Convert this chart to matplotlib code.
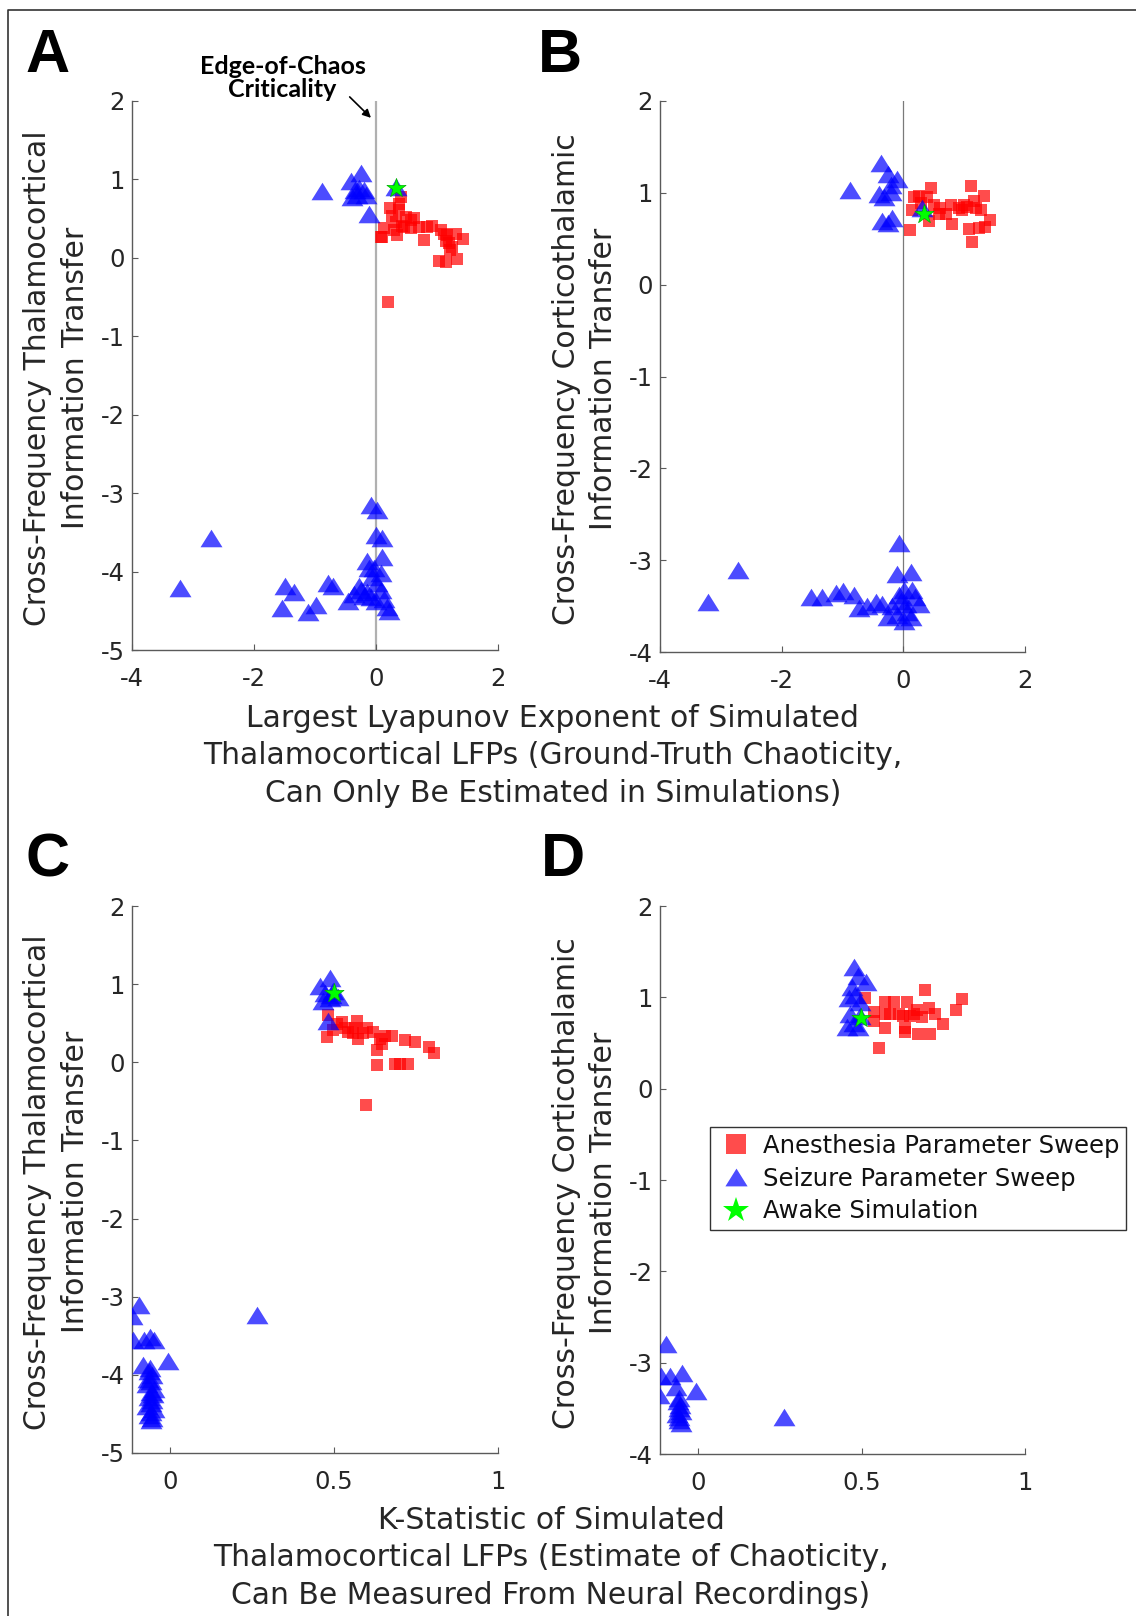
import matplotlib
matplotlib.use("Agg")
import matplotlib.pyplot as plt
from matplotlib.lines import Line2D
import numpy as np

plt.rcParams["font.family"] = ["DejaVu Sans"]
plt.rcParams["axes.unicode_minus"] = False

# ---------------- data ----------------
# Panel A: Lyapunov exponent vs thalamocortical transfer
a_red_x = [0.415, 0.23, 0.377, 0.486, 0.322, 0.13, 0.104, 0.35, 0.46, 0.62, 0.70, 0.787,
           0.92, 1.06, 1.17, 1.31, 1.43, 1.25, 1.33, 1.14, 1.03, 0.197, 0.57, 0.077,
           0.295, 0.43, 0.57, 0.84, 1.11, 1.22, 1.14, 1.20, 0.27, 0.377]
a_red_y = [0.78, 0.63, 0.61, 0.525, 0.46, 0.377, 0.27, 0.29, 0.39, 0.51, 0.39, 0.228,
           0.41, 0.355, 0.29, 0.31, 0.24, 0.14, -0.01, -0.05, -0.035, -0.56, 0.38, 0.265,
           0.35, 0.41, 0.48, 0.39, 0.307, 0.095, 0.22, 0.185, 0.53, 0.69]
a_blue_x = [-0.88, -0.24, -0.415, -0.35, -0.28, -0.20, -0.31, -0.17, -0.39, -0.115, 0.32,
            -3.21, -2.70, -1.49, -1.34, -1.54, -1.11, -0.99, -0.78, -0.70, -0.46, -0.36,
            -0.25, -0.14, -0.087, 0.02, -0.005, 0.10, -0.14, 0.10, -0.03, -0.06, 0.02,
            0.077, -0.087, 0.13, 0.186, 0.21, -0.20, -0.005, -0.28, 0.077, -0.115]
a_blue_y = [0.85, 1.08, 0.985, 0.87, 0.89, 0.87, 0.80, 0.80, 0.78, 0.56, 0.90,
            -4.21, -3.57, -4.18, -4.26, -4.46, -4.52, -4.42, -4.14, -4.19, -4.38, -4.28,
            -4.24, -4.26, -3.15, -3.22, -3.53, -3.57, -3.86, -3.81, -3.95, -4.07, -4.14,
            -4.24, -4.33, -4.35, -4.45, -4.50, -4.31, -4.38, -4.19, -4.02, -3.95]
a_star = (0.335, 0.89)

# Panel B: Lyapunov exponent vs corticothalamic transfer
b_red_x = [0.11, 0.175, 0.26, 0.45, 0.15, 0.39, 0.50, 0.61, 0.78, 0.70, 0.80, 0.42,
           1.11, 1.33, 1.16, 1.05, 0.915, 1.27, 1.42, 1.08, 1.24, 1.35, 1.13, 0.285,
           0.59, 0.97, 1.19, 1.00]
b_red_y = [0.59, 0.96, 0.97, 1.05, 0.81, 0.95, 0.87, 0.83, 0.87, 0.77, 0.66, 0.69,
           1.07, 0.97, 0.91, 0.85, 0.83, 0.81, 0.70, 0.61, 0.62, 0.63, 0.47, 0.89,
           0.77, 0.81, 0.83, 0.87]
b_blue_x = [-0.877, -0.37, -0.26, -0.11, -0.21, -0.40, -0.32, -0.21, -0.345, -0.18, -0.26, 0.31,
            -3.21, -2.71, -1.52, -1.34, -1.11, -0.99, -0.81, -0.73, -0.455, -0.345, -0.26,
            -0.066, -0.11, 0.12, 0.01, -0.044, 0.066, 0.20, 0.26, -0.10, 0.01, 0.12,
            -0.18, 0.15, -0.07, 0.04, -0.59]
b_blue_y = [1.03, 1.32, 1.21, 1.15, 1.09, 0.99, 0.96, 1.01, 0.69, 0.73, 0.67, 0.83,
            -3.46, -3.11, -3.40, -3.40, -3.36, -3.34, -3.38, -3.52, -3.46, -3.48, -3.62,
            -2.81, -3.15, -3.13, -3.32, -3.44, -3.56, -3.40, -3.48, -3.60, -3.66, -3.62,
            -3.50, -3.32, -3.38, -3.48, -3.50]
b_star = (0.34, 0.77)

# Panel C: K-statistic vs thalamocortical transfer
c_red_x = [0.477, 0.482, 0.508, 0.533, 0.543, 0.569, 0.563, 0.574, 0.599, 0.619, 0.64,
           0.655, 0.675, 0.63, 0.63, 0.685, 0.70, 0.726, 0.716, 0.748, 0.789, 0.805,
           0.596, 0.497, 0.589, 0.523, 0.645, 0.558]
c_red_y = [0.32, 0.60, 0.49, 0.44, 0.39, 0.53, 0.44, 0.30, 0.44, 0.39, 0.30,
           0.34, 0.34, 0.16, -0.03, -0.02, -0.02, -0.02, 0.29, 0.26, 0.20, 0.12,
           -0.545, 0.415, 0.37, 0.51, 0.23, 0.37]
c_blue_x = [0.487, 0.457, 0.472, 0.497, 0.513, 0.467, 0.487, 0.482, 0.49,
            -0.096, -0.117, -0.114, -0.081, -0.061, -0.051, -0.008, -0.083, -0.061,
            -0.065, -0.055, -0.06, -0.07, -0.05, -0.06, -0.065, -0.055, -0.06, -0.07,
            -0.05, -0.06, -0.065, -0.055, -0.06, -0.052, -0.068, 0.264]
c_blue_y = [1.08, 0.98, 0.89, 0.91, 0.84, 0.79, 0.82, 0.53, 0.86,
            -3.11, -3.25, -3.56, -3.56, -3.51, -3.56, -3.82, -3.87, -3.91,
            -3.95, -4.00, -4.08, -4.12, -4.18, -4.22, -4.28, -4.32, -4.36, -4.40,
            -4.44, -4.48, -4.52, -4.55, -4.58, -4.25, -4.05, -3.23]
c_star = (0.4995, 0.89)

# Panel D: K-statistic vs corticothalamic transfer
d_red_x = [0.511, 0.537, 0.537, 0.572, 0.572, 0.572, 0.598, 0.613, 0.633, 0.64, 0.649,
           0.669, 0.684, 0.695, 0.705, 0.725, 0.674, 0.71, 0.75, 0.789, 0.806, 0.552,
           0.588, 0.628, 0.659, 0.633]
d_red_y = [0.99, 0.84, 0.74, 0.95, 0.82, 0.66, 0.95, 0.82, 0.62, 0.95, 0.80,
           0.86, 0.78, 1.08, 0.885, 0.82, 0.60, 0.60, 0.71, 0.865, 0.98, 0.45,
           0.82, 0.80, 0.82, 0.66]
d_blue_x = [0.476, 0.488, 0.514, 0.47, 0.46, 0.48, 0.496, 0.465, 0.476, 0.49, 0.455, 0.496,
            -0.098, -0.115, -0.085, -0.049, -0.12, -0.008, -0.069, -0.059,
            -0.062, -0.055, -0.06, -0.052, -0.065, -0.058, -0.06, -0.054, 0.262]
d_blue_y = [1.33, 1.23, 1.17, 1.11, 0.99, 1.03, 0.95, 0.82, 0.72, 0.68, 0.68, 0.80,
            -2.80, -3.15, -3.15, -3.11, -3.35, -3.31, -3.27, -3.39,
            -3.42, -3.46, -3.50, -3.53, -3.56, -3.60, -3.63, -3.66, -3.59]
d_star = (0.498, 0.776)

legend_labels = ["Anesthesia Parameter Sweep", "Seizure Parameter Sweep", "Awake Simulation"]

# ---------------- styling ----------------
RED = (1, 0, 0, 0.7)
BLUE = (0, 0, 1, 0.7)
GREEN = "#00ff00"
TRI = [(-1, -0.8), (1, -0.8), (0, 0.8), (-1, -0.8)]
TICK_FS = 17.5
LABEL_FS = 21.5
LABEL_LS = 1.36
W, H = 1136, 1616

fig = plt.figure(figsize=(W / 100, H / 100), dpi=100)


def px_axes(left, top, right, bottom):
    return fig.add_axes([left / W, 1 - bottom / H, (right - left) / W, (bottom - top) / H])


ax_a = px_axes(132, 101, 498, 650)
ax_b = px_axes(660, 101, 1025, 652)
ax_c = px_axes(132, 906, 498, 1453)
ax_d = px_axes(660, 906, 1025, 1454)

panels = [
    (ax_a, a_red_x, a_red_y, a_blue_x, a_blue_y, a_star, (-4, 2), (-5, 2), [-4, -2, 0, 2]),
    (ax_b, b_red_x, b_red_y, b_blue_x, b_blue_y, b_star, (-4, 2), (-4, 2), [-4, -2, 0, 2]),
    (ax_c, c_red_x, c_red_y, c_blue_x, c_blue_y, c_star, (-0.117, 1), (-5, 2), [0, 0.5, 1]),
    (ax_d, d_red_x, d_red_y, d_blue_x, d_blue_y, d_star, (-0.117, 1), (-4, 2), [0, 0.5, 1]),
]

for ax, rx, ry, bx, by, star, xlim, ylim, xt in panels:
    ax.scatter(rx, ry, s=63, marker="s", color=RED, linewidths=0, zorder=3)
    ax.scatter(bx, by, s=250, marker=TRI, color=BLUE, linewidths=0, zorder=4)
    ax.scatter([star[0]], [star[1]], s=210, marker="*", color=GREEN,
               edgecolors="#00b000", linewidths=0.5, zorder=5)
    ax.set_xlim(*xlim)
    ax.set_ylim(*ylim)
    ax.set_xticks(xt)
    ax.set_xticklabels([("%g" % v) for v in xt])
    ax.set_yticks(range(ylim[0], ylim[1] + 1))
    for side in ["top", "right"]:
        ax.spines[side].set_visible(False)
    for side in ["left", "bottom"]:
        ax.spines[side].set_color("#5a5a5a")
        ax.spines[side].set_linewidth(1.0)
    ax.tick_params(direction="in", length=4, width=0.8, color="#5a5a5a",
                   labelsize=TICK_FS, labelcolor="#262626")
    ax.tick_params(axis="x", pad=12)
    ax.tick_params(axis="y", pad=5)

ax_a.axvline(0, color="#b0b0b0", lw=1.6, zorder=1)
ax_b.axvline(0, color="#7a7a7a", lw=0.9, zorder=1)

# y labels
ylabels = {
    ax_a: "Cross-Frequency Thalamocortical\nInformation Transfer",
    ax_b: "Cross-Frequency Corticothalamic\nInformation Transfer",
    ax_c: "Cross-Frequency Thalamocortical\nInformation Transfer",
    ax_d: "Cross-Frequency Corticothalamic\nInformation Transfer",
}
for ax, txt in ylabels.items():
    ax.text(-0.206, 0.495, txt, transform=ax.transAxes, rotation=90, ha="center",
            va="center", multialignment="center", fontsize=LABEL_FS,
            linespacing=LABEL_LS, color="#262626")

# x labels (shared per row)
fig.text(553 / W, 1 - 756 / H,
         "Largest Lyapunov Exponent of Simulated\n"
         "Thalamocortical LFPs (Ground-Truth Chaoticity,\n"
         "Can Only Be Estimated in Simulations)",
         ha="center", va="center", multialignment="center", fontsize=LABEL_FS,
         linespacing=LABEL_LS, color="#262626")
fig.text(551 / W, 1 - 1558 / H,
         "K-Statistic of Simulated\n"
         "Thalamocortical LFPs (Estimate of Chaoticity,\n"
         "Can Be Measured From Neural Recordings)",
         ha="center", va="center", multialignment="center", fontsize=LABEL_FS,
         linespacing=LABEL_LS, color="#262626")

# panel letters
for letter, x0, y0 in [("A", 25, 72), ("B", 538, 72), ("C", 25, 876), ("D", 541, 876)]:
    fig.text(x0 / W, 1 - y0 / H, letter, fontsize=44, fontweight="bold",
             family="Liberation Sans", ha="left", va="baseline")

# edge-of-chaos annotation
ax_a.text(-1.53, 2.05, "Edge-of-Chaos\nCriticality", ha="center", va="baseline",
          multialignment="center", fontsize=18, fontweight="bold", family="Lato",
          linespacing=0.98, clip_on=False)
ax_a.annotate("", xy=(-0.05, 1.76), xytext=(-0.464, 2.077), xycoords="data",
              textcoords="data", annotation_clip=False,
              arrowprops=dict(arrowstyle="-|>", color="black", lw=1.2, mutation_scale=12))

# legend
handles = [
    Line2D([], [], ls="none", marker="s", ms=14, color=RED, markeredgewidth=0),
    Line2D([], [], ls="none", marker=TRI, ms=16, color=BLUE, markeredgewidth=0),
    Line2D([], [], ls="none", marker="*", ms=19, color=GREEN, markeredgewidth=0),
]
leg = ax_d.legend(handles, legend_labels, loc="upper left",
                  bbox_to_anchor=(710 / W, 1 - 1127 / H), bbox_transform=fig.transFigure,
                  fontsize=TICK_FS, frameon=True, fancybox=False, framealpha=1,
                  edgecolor="#333333", handlelength=1.6, handletextpad=0.3,
                  borderpad=0.28, labelspacing=0.36, borderaxespad=0)
leg.get_frame().set_linewidth(1.0)
for t in leg.get_texts():
    t.set_color("#111111")

# outer border of the figure panel
border_y = 1 - 9.5 / H
fig.add_artist(Line2D([8 / W, 8 / W, 1.0], [0, border_y, border_y],
                      transform=fig.transFigure, color="#333333", lw=1.2))

fig.savefig("out.png", dpi=100, facecolor="white")
